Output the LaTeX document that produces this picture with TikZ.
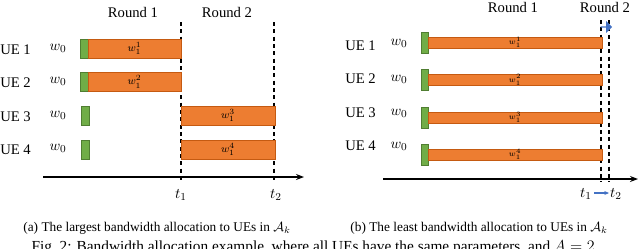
\documentclass[tikz,border=0pt]{standalone}
\usepackage{fontspec}
\setmainfont{Liberation Serif}
\usetikzlibrary{arrows.meta,shapes.arrows}
\definecolor{obar}{HTML}{ED7D31}
\definecolor{oedge}{HTML}{C55A11}
\definecolor{gbar}{HTML}{70AD47}
\definecolor{gedge}{HTML}{507E32}
\definecolor{bluearr}{HTML}{4472C4}
\tikzset{
  orangebar/.style={fill=obar, draw=oedge, line width=0.5pt, inner sep=0pt, outer sep=0pt},
  greenbar/.style={fill=gbar, draw=gedge, line width=0.5pt, inner sep=0pt, outer sep=0pt},
  abarA/.style={orangebar, minimum width=93*0.75pt, minimum height=19*0.75pt, font=\fontsize{8}{9}\selectfont},
  abarB/.style={orangebar, minimum width=94*0.75pt, minimum height=19*0.75pt, font=\fontsize{8}{9}\selectfont},
  bbar/.style={orangebar, minimum width=174*0.75pt, minimum height=10.5*0.75pt, font=\fontsize{6.5}{7}\selectfont},
  ga/.style={greenbar, minimum width=8*0.75pt, minimum height=19*0.75pt},
  gb/.style={greenbar, minimum width=7*0.75pt, minimum height=21*0.75pt},
  uelab/.style={font=\fontsize{11}{13}\selectfont, anchor=west, inner sep=0pt},
  wlab/.style={font=\fontsize{11}{13}\selectfont, inner sep=0pt},
  roundlab/.style={font=\fontsize{11}{13}\selectfont, inner sep=0pt},
  divider/.style={line width=1pt, dash pattern=on 3pt off 2.5pt},
  axisline/.style={line width=0.9pt, -{Stealth[length=6pt,width=4.5pt]}},
  caplab/.style={font=\fontsize{10}{12}\selectfont, inner sep=0pt},
}
\begin{document}
\begin{tikzpicture}[x=0.75pt,y=-0.75pt]
\useasboundingbox (0,0) rectangle (640,248);
\clip (0,0) rectangle (640,248);
% ---------------- panel (a) ----------------
\node[roundlab] (ra1) at (133,12) {Round 1};
\node[roundlab] (ra2) at (227,12) {Round 2};
\coordinate (da1t) at (181,22); \coordinate (da1b) at (181,182);
\coordinate (da2t) at (274,22); \coordinate (da2b) at (274,182);
\draw[divider] (da1t) -- (da1b);
\draw[divider] (da2t) -- (da2b);
% UE rows
\node[uelab] (ua1) at (0,50) {UE 1};
\node[uelab] (ua2) at (0,83) {UE 2};
\node[uelab] (ua3) at (0,117) {UE 3};
\node[uelab] (ua4) at (0,150) {UE 4};
\node[wlab] (wa1) at (58,48) {$w_0$};
\node[wlab] (wa2) at (58,81) {$w_0$};
\node[wlab] (wa3) at (58,115) {$w_0$};
\node[wlab] (wa4) at (58,148) {$w_0$};
\node[ga] (ga1) at (84,48.5) {};
\node[ga] (ga2) at (84,82) {};
\node[ga] (ga3) at (85,115.5) {};
\node[ga] (ga4) at (85,149.5) {};
\node[abarA] (oa1) at (134.5,48.5) {$w_1^1$};
\node[abarA] (oa2) at (134.5,82) {$w_1^2$};
\node[abarB] (oa3) at (228,115.5) {$w_1^3$};
\node[abarB] (oa4) at (228,149.5) {$w_1^4$};
\coordinate (axa0) at (43,177); \coordinate (axa1) at (304,177);
\draw[axisline] (axa0) -- (axa1);
\node[wlab] (ta1) at (181,195) {$t_1$};
\node[wlab] (ta2) at (276,195) {$t_2$};
\node[caplab] (capa) at (157,228) {(a) The largest bandwidth allocation to UEs in $\mathcal{A}_k$};
% ---------------- panel (b) ----------------
\node[roundlab] (rb1) at (513,7) {Round 1};
\node[roundlab] (rb2) at (605,7) {Round 2};
\coordinate (db1t) at (601,20); \coordinate (db1b) at (601,182);
\coordinate (db2t) at (609,20); \coordinate (db2b) at (609,182);
\draw[divider] (db1t) -- (db1b);
\draw[divider] (db2t) -- (db2b);
\node[single arrow, fill=bluearr, draw=none, minimum height=8.5pt, minimum width=9pt,
      single arrow head extend=1.5pt, inner sep=0pt] (barr) at (606,27) {};
\node[uelab] (ub1) at (345,46) {UE 1};
\node[uelab] (ub2) at (345,79) {UE 2};
\node[uelab] (ub3) at (345,113) {UE 3};
\node[uelab] (ub4) at (345,146) {UE 4};
\node[wlab] (wb1) at (399,43) {$w_0$};
\node[wlab] (wb2) at (399,79) {$w_0$};
\node[wlab] (wb3) at (399,113) {$w_0$};
\node[wlab] (wb4) at (399,146) {$w_0$};
\node[gb] (gb1) at (424.5,42.5) {};
\node[gb] (gb2) at (424.5,80) {};
\node[gb] (gb3) at (424.5,117.5) {};
\node[gb] (gb4) at (424.5,154.5) {};
\node[bbar] (ob1) at (515,42.5) {$w_1^1$};
\node[bbar] (ob2) at (515,80) {$w_1^2$};
\node[bbar] (ob3) at (515,117.5) {$w_1^3$};
\node[bbar] (ob4) at (515,154.5) {$w_1^4$};
\coordinate (axb0) at (383,179); \coordinate (axb1) at (638,179);
\draw[axisline] (axb0) -- (axb1);
\node[wlab] (tb1) at (586,194) {$t_1$};
\node[wlab] (tb2) at (616,194) {$t_2$};
\coordinate (tba) at (594,193); \coordinate (tbb) at (609,193);
\draw[bluearr, line width=0.8pt, -{Stealth[length=3.5pt,width=3pt]}] (tba) -- (tbb);
\node[caplab] (capb) at (479,228) {(b) The least bandwidth allocation to UEs in $\mathcal{A}_k$};
% ---------------- figure caption (cut off) ----------------
\node[font=\fontsize{11.5}{13}\selectfont, anchor=base, inner sep=0pt] (figcap) at (315,251.5)
  {Fig.~2: Bandwidth allocation example, where all UEs have the same parameters, and $A=2$.};
\end{tikzpicture}
\end{document}
